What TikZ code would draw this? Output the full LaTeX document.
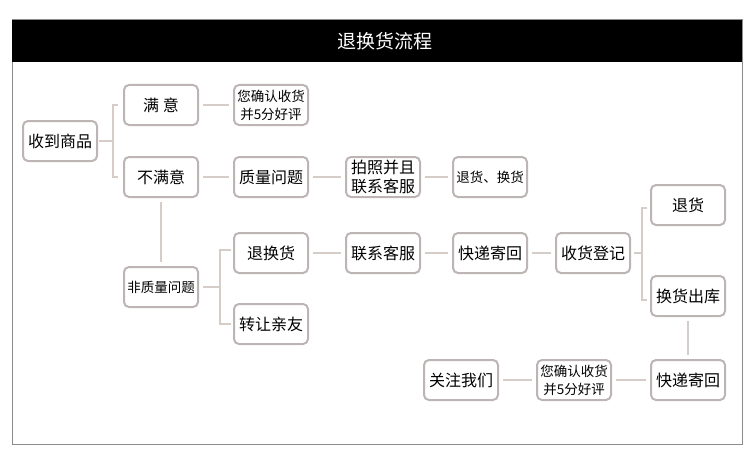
\documentclass[tikz,border=0pt]{standalone}
\usepackage{fontspec}
\setmainfont{Noto Sans CJK SC}
\usepackage{tikz}
\usetikzlibrary{positioning}

\definecolor{boxline}{HTML}{BDB4B4}
\definecolor{linkline}{HTML}{D6CDC9}
\definecolor{frameline}{HTML}{8C8C8C}

\begin{document}
\begin{tikzpicture}[
    x=1pt, y=-1pt,
    stepbox/.style={draw=boxline, line width=2pt, rounded corners=5pt, fill=white,
      minimum width=74pt, minimum height=40pt, inner sep=1pt, align=center,
      font=\fontsize{16}{19}\selectfont},
    smallbox/.style={stepbox, font=\fontsize{13.5}{18}\selectfont},
    link/.style={draw=linkline, line width=1.5pt, shorten >=4pt, shorten <=4pt},
    fork/.style={draw=linkline, line width=1.5pt}
  ]
  \useasboundingbox (0,0) rectangle (750,460);

  % Frame and title
  \draw[frameline, line width=1pt] (12,20) rectangle (742,444);
  \fill[black] (12,20) rectangle (742,62);
  \node[text=white, font=\fontsize{19}{22}\selectfont] (title) at (385,41) {退换货流程};

  % First column
  \node[stepbox] (recv) at (60,141) {收到商品};

  % Second column
  \node[stepbox] (ok)    at (161,105) {满 意};
  \node[stepbox] (notok) at (161,177) {不满意};
  \node[smallbox] (nonq) at (161,287) {非质量问题};

  % Satisfied
  \node[smallbox] (rate1) at (271,105) {您确认收货\\并5分好评};

  % Quality problem
  \node[stepbox] (qual)  at (271,177) {质量问题};
  \node[stepbox] (photo) at (383,177) {拍照并且\\联系客服};
  \node[smallbox] (swap) at (490,177) {退货、换货};

  % Not a quality problem
  \node[stepbox] (ret)    at (271,253) {退换货};
  \node[stepbox] (gift)   at (271,324) {转让亲友};
  \node[stepbox] (call)   at (383,253) {联系客服};
  \node[stepbox] (post1)  at (490,253) {快递寄回};
  \node[stepbox] (check)  at (593,253) {收货登记};
  \node[stepbox] (back)   at (688,205) {退货};
  \node[stepbox] (out)    at (688,296) {换货出库};

  % Bottom row
  \node[stepbox] (post2)  at (688,380) {快递寄回};
  \node[smallbox] (rate2) at (574,380) {您确认收货\\并5分好评};
  \node[stepbox] (follow) at (461,380) {关注我们};

  % Forks
  \coordinate (f1) at (113,141);
  \draw[fork] (recv.east) ++(1,0) -- (f1);
  \draw[fork] (118,105) -- (113,105) -- (113,177) -- (118,177);
  \coordinate (f2) at (220,287);
  \draw[fork] (nonq.east) ++(4,0) -- (f2);
  \draw[fork] (231,250) -- (220,250) -- (220,324) -- (231,324);
  \coordinate (f3) at (642,253);
  \draw[fork] (check.east) ++(3,0) -- (f3);
  \draw[fork] (647,208) -- (642,208) -- (642,300) -- (647,300);

  % Links
  \draw[link] (ok) -- (rate1);
  \draw[link] (notok) -- (qual);
  \draw[link] (qual) -- (photo);
  \draw[link] (photo) -- (swap);
  \draw[link] (notok) -- (nonq);
  \draw[link] (ret) -- (call);
  \draw[link] (call) -- (post1);
  \draw[link] (post1) -- (check);
  \draw[link] (out) -- (post2);
  \draw[link] (post2) -- (rate2);
  \draw[link] (rate2) -- (follow);
\end{tikzpicture}
\end{document}
